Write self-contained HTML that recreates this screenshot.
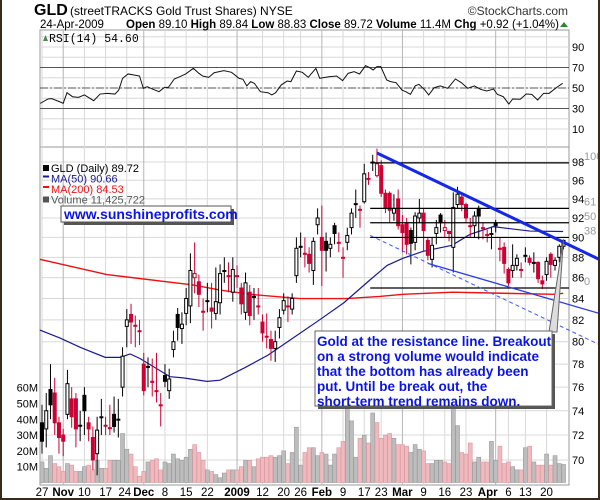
<!DOCTYPE html>
<html><head><meta charset="utf-8"><style>
html,body{margin:0;padding:0;background:#fff;}
svg{display:block;font-family:"Liberation Sans",sans-serif;}
</style></head><body>
<svg id="chart" width="600" height="500" viewBox="0 0 600 500">
<rect x="0" y="0" width="600" height="500" fill="#fff"/>
<g id="grid"></g>
<g id="volume"></g>
<g id="mas"></g>
<g id="candles"></g>
<g id="annot"></g>
<g id="rsi"></g>
<g id="axes"></g>
<g>
<text x="34" y="15" font-size="16" font-weight="bold">GLD</text>
<text x="70" y="15" font-size="12">(streetTRACKS Gold Trust Shares) NYSE</text>
<text x="568" y="15" font-size="12" text-anchor="end" fill="#333">©StockCharts.com</text>
<text x="40" y="28" font-size="11.5">24-Apr-2009</text>
<text x="126" y="28" font-size="11.5"><tspan font-weight="bold">Open</tspan> 89.10 <tspan font-weight="bold">High</tspan> 89.84 <tspan font-weight="bold">Low</tspan> 88.83 <tspan font-weight="bold">Close</tspan> 89.72 <tspan font-weight="bold">Volume</tspan> 11.4M <tspan font-weight="bold">Chg</tspan> +0.92 (+1.04%)</text>
<polygon points="560,27 564,22 568,27" fill="#2a8a2a"/>
</g>
<rect x="0" y="0" width="2" height="500" fill="#3d2b1a"/>
<rect x="598" y="0" width="2" height="500" fill="#3d2b1a"/>
<rect x="0" y="498" width="600" height="2" fill="#3d2b1a"/>
</svg>
<script>
// ---- data ----
const opens =  [73,72.5,75.8,75.5,73,72,73.7,75,75,72.8,75.3,73,71.8,70.5,73.5,72.8,72.6,73.7,73.3,76,81.4,82.5,81.5,81,78,77.8,76.5,75.7,74.5,77,75.7,79.3,82.5,81.2,82.6,83.3,86,85.6,82.8,83.8,83.1,82.6,83.6,86.7,86.2,84.6,86.2,85,82.7,84.6,84.2,83.3,81.8,80.5,80.2,79.4,81.3,82.9,83.3,83,86.2,89.1,88.4,88.3,86.7,91.3,90,89.6,88.9,91.2,89.5,88,89.5,91,93.5,92.9,93.7,96.2,98,96.5,97.6,94.6,94.6,92.5,94,91.3,91.4,90.7,89.5,92,92.5,89.7,87.8,90.4,92.3,90.7,90.6,89,93.4,94.2,93.4,91.2,91.2,93,91,90.3,90.4,91.5,88.9,89,86.8,86.7,87.2,86.8,88.2,87.9,87.5,87.5,85.7,86.3,88.3,87.2,88,89.1];
const highs =  [74.5,75.5,78,76.8,73.5,72.5,77.5,76,75.5,74,76,73.5,72.7,73.5,75,73.5,74.5,75.2,75,79.5,83,83.5,82.4,82,79,78.6,78.5,79,75.5,78,77.6,81,83.1,82.7,85,88.4,89.5,86.3,84,85.5,85.5,87,87.3,88,87.5,88,87.2,85.5,86.5,85.3,85,85,82.5,82.6,81,81,83,84.5,84.2,84.5,90,90.5,90,89,90,93,93.3,90.5,90,91.5,90.5,89,91,93,95,93.3,97.8,96.9,98.8,99.5,98.2,95,94.8,94.5,95,92.3,92,91,92.6,94,93,90,90,91.8,92.5,91.8,90.7,94.7,95.3,94.5,93.6,92,92.7,93.3,91.5,90.8,91,91.8,90,89.5,87,89.3,88.3,87.5,89,88.2,88.5,87.6,86.2,88,88.5,88,89.3,89.8];
const lows =   [70.5,71,73.3,72,70.5,70.3,73.3,72.6,71,71.5,72,71.5,69.2,68.8,72,72,72,72.2,71.8,75.2,79.5,79.8,79.5,79.7,75.3,76,75.2,74.7,72.7,76,75,78.6,80.1,79.8,81.5,81.7,84.5,83.2,81,82.7,81.2,82,82.5,85.5,84.6,83.7,85,82.5,82,81.5,82,82.5,80,79.4,78.3,78.2,80.3,82.5,81.8,82.5,85.5,88,87,86.5,85.3,90.3,85.2,86.6,88,89.3,88.5,86,88.7,90.3,92,91,93.5,95.5,97,96.3,94.2,92.5,91.5,91.7,90.8,88.5,88.3,87.3,88.7,91.5,88.6,87.7,87,89.3,90.5,90,89.6,86.5,93,92.7,91.5,90,90,89.8,89.8,89.5,88.8,90.5,87.6,86.4,85.2,86,86.7,86,87.5,87.2,86.5,85.5,84.9,85.7,86,86.7,87.5,88.8];
const closes = [71.5,74,74.5,73,71.8,71.5,76.3,73.5,72.5,72.8,74,72.5,70,72.4,73.5,72.8,72.6,72.7,73.3,78.7,82,81.8,81.5,81,75.7,77.8,76.5,75.7,74.5,76.5,76.7,80,81.3,81.6,84,86.7,86.4,84.4,82.8,83.8,82.8,83.7,86.4,86.7,86.2,86.8,86.2,83.5,85.5,82.4,84.2,83.3,80.8,80.5,79.4,80,82.2,83.8,83.3,84,88.9,89.1,88.4,87.4,89.6,92,88.7,88.7,89.3,90.4,89.5,88,90.2,92.5,93.4,92.9,96.7,96.2,98,97.8,94.6,93.1,92.8,93,91.2,90.5,89.3,89.4,92.2,92.5,90.7,88.2,89.2,91,91.5,91,90.4,93.1,94.5,93.4,92,91.2,92.2,92.2,91,90.3,90.4,91.2,88.9,87.4,85.5,87.2,87.9,86.8,88.1,87.5,87.5,85.9,85.4,87.6,87.3,87.7,89.1,89.7];
const volumesM = [13,9,17,12,10,7,12,11,7,7,10,11,8,14,9,9,14,14,14,31,21,18,10,4,7,13,14,15,8,13,12,18,15,14,16,21,24,19,14,8,7,5,3,6,8,8,8,10,14,14,10,15,16,16,17,16,17,20,12,19,35,11,19,22,22,17,19,18,11,18,22,26,49,39,16,28,30,25,44,38,28,30,31,28,24,24,23,19,24,21,20,12,12,14,14,13,12,52,36,19,18,25,13,16,13,13,26,14,23,12,13,10,8,8,22,23,13,11,11,18,11,17,12,11.4];
const ma50Day = [-0.5,4.2,9,14.9,18.4,20.8,23.1,30.2,33.3,38.9,42,47.9,53.3,58.7,65.1,71.2,77.4,81.4,85.1,89.9,96.7,100.9,106.4,115.1,122.9];
const ma50Val = [81.06,80.34,79.5,78.6,78.6,78.9,78.5,76.9,76.8,76.5,76.6,77.7,78.8,80.2,81.9,83.6,85.8,87.2,87.9,88.6,89.2,90.3,91.1,90.65,90.6];
const ma200Day = [-0.5,15.3,35.6,42,49,60.8,71.9,79.7,85.1,96.9,108.7,121,122.9];
const ma200Val = [87.8,86.3,85.3,84.8,84.4,84.0,84.0,84.2,84.4,84.6,84.5,84.4,84.5];
const rsiDay = [-0.4,1.4,2.3,4.1,5.0,5.9,7.2,8.6,10.0,12.2,13.7,15.4,17.2,18.1,19.0,20.3,21.7,23.0,23.9,24.8,26.2,27.6,28.9,29.8,31.2,32.5,33.9,35.7,37.0,37.9,39.3,40.6,42.9,44.7,46.5,47.4,48.3,49.2,50.1,51.5,53.3,54.2,55.1,56.4,57.8,58.7,60.0,61.4,62.8,64.6,65.5,66.4,67.7,69.5,70.9,72.2,73.6,74.9,76.3,77.2,78.1,79.0,79.9,81.3,82.2,83.5,84.9,85.8,86.9,88.0,88.9,90.3,91.2,92.5,93.9,95.7,97.5,98.9,100.4,102.0,103.4,104.9,106.5,107.4,108.8,110.1,111.0,112.8,114.2,115.5,116.9,118.3,119.6,121.4,122.8];
const rsiVal = [35.0,39.3,39.6,36.7,35.0,45.4,41.5,40.9,43.2,37.6,44.1,44.8,44.1,48.0,59.4,63.7,62.7,61.7,49.7,51.3,48.7,46.4,50.6,50.6,58.8,61.0,63.7,69.2,64.3,61.7,60.4,64.9,66.9,65.3,59.4,58.5,52.0,56.2,54.5,46.4,45.4,43.2,45.4,52.9,56.8,56.2,66.6,65.3,60.4,69.2,59.4,60.1,61.0,61.7,57.2,64.3,65.9,63.7,71.8,70.1,67.6,70.8,70.8,57.8,56.2,55.2,48.0,46.4,43.8,52.0,53.6,48.0,43.2,50.3,52.0,49.7,58.8,55.2,49.7,52.0,48.7,47.1,49.0,43.8,41.5,34.4,39.3,39.0,44.1,43.8,38.3,44.8,44.8,50.6,54.6];
const xLabels = ["27","Nov","10","17","24","Dec","8","15","22","2009","12","20","26","Feb","9","17","23","Mar","9","16","23","Apr","6","13","20"];
const xLabelDay = [0,5,10,15,20,24,29,34,39,46,52,57,61,66,71,76,80,85,90,95,100,107,110,114,119];
const monthLabels = ["Nov","Dec","2009","Feb","Mar","Apr"];
const priceTicks = [70,72,74,76,78,80,82,84,86,88,90,92,94,96,98];
const rsiTicks = [90,70,50,30,10];
const rsiGrid = [100,90,80,70,60,50,40,30,20,10];
const volTicks = [10,20,30,40,50,60];
const fibPrices = [97.9,93.0,91.5,90.0,85.0];
const fibLabels = ["100","61","50","38","0"];
const resistDay = [79,124.5];   const resistPrice = [99.0,89.2];
const supportDay = [91,124.5];  const supportPrice = [87.4,83.4];
const dashDay = [77.4,114.4];   const dashPrice = [90.2,82.9];

// ---- scales ----
const L=40,R=569,RT=30,RB=147,PT=147,PB=485;
const X=i=>42+4.24*i;
const Y=p=>162+(Math.log(98)-Math.log(p))*885.6;
const RY=v=>88-(v-50)*1.025;
const VY=v=>482.5-v*1.58;
const NS="http://www.w3.org/2000/svg";
function mk(tag,attrs,parent){const e=document.createElementNS(NS,tag);for(const k in attrs)e.setAttribute(k,attrs[k]);parent.appendChild(e);return e;}
const g=id=>document.getElementById(id);

// ---- grid ----
const grid=g('grid');
let e;
e=mk('rect',{x:L,y:RT,width:R-L,height:RB-RT,fill:'#fff',stroke:'#999'},grid);


e=mk('rect',{x:L,y:PT,width:R-L,height:PB-PT,fill:'#fff',stroke:'#999'},grid);


rsiGrid.forEach(v=>{
  e=mk('line',{x1:L,x2:R,y1:RY(v),y2:RY(v),stroke:'#d8d8d8'},grid);
  
  
});
priceTicks.forEach(p=>{
  e=mk('line',{x1:L,x2:R,y1:Y(p),y2:Y(p),stroke:'#d8d8d8'},grid);
  
  
});
xLabelDay.forEach((d,k)=>{
  const dark=monthLabels.includes(xLabels[k]);
  [[RT,RB],[PT,PB]].forEach(r=>{
    e=mk('line',{x1:X(d),x2:X(d),y1:r[0],y2:r[1],stroke:dark?'#b4b4b4':'#d8d8d8'},grid);
    
    
  });
});

// ---- volume ----
const vg=g('volume');
volumesM.forEach((v,i)=>{
  const up=i===0?true:closes[i]>=closes[i-1];
  e=mk('rect',{x:X(i)-2,y:VY(v),width:4,height:482.5-VY(v),fill:up?'#bdbdbd':'#efb9bd',stroke:up?'#9a9a9a':'#d99aa0','stroke-width':0.6},vg);
  
  
});

// ---- moving averages ----
const mg=g('mas');
e=mk('polyline',{points:ma200Day.map((d,k)=>X(d)+','+Y(ma200Val[k])).join(' '),fill:'none',stroke:'#ee1111','stroke-width':1.4},mg);


e=mk('polyline',{points:ma50Day.map((d,k)=>X(d)+','+Y(ma50Val[k])).join(' '),fill:'none',stroke:'#1a1a90','stroke-width':1.2},mg);



// ---- candles ----
const cg=g('candles');
closes.forEach((c,i)=>{
  const o=opens[i];
  const col=(i>0&&c<closes[i-1])?'#cc0033':'#000';
  const hollow=c>=o;
  const x=X(i);
  e=mk('line',{x1:x,x2:x,y1:Y(highs[i]),y2:Y(lows[i]),stroke:col,'stroke-width':1},cg);
  
  
  const top=Y(Math.max(o,c)),bot=Y(Math.min(o,c));
  e=mk('rect',{x:x-1.5,y:top,width:3,height:Math.max(1,bot-top),fill:hollow?'#fff':col,stroke:col,'stroke-width':1},cg);
  
  
});

// ---- annotations ----
const ag=g('annot');
fibPrices.forEach((p,k)=>{
  e=mk('line',{x1:X(77.4),x2:R,y1:Y(p),y2:Y(p),stroke:'#000','stroke-width':1.2},ag);
  
  
  e=mk('text',{x:584,y:Y(p)-3,'font-size':11,fill:'#999'},ag);
  e.textContent=fibLabels[k];
  
  
});
function extLine(days,prices,xEnd,attrs){
  const slope=(Math.log(prices[1])-Math.log(prices[0]))/(days[1]-days[0]);
  const dEnd=(xEnd-42)/4.24;
  const pEnd=Math.exp(Math.log(prices[0])+slope*(dEnd-days[0]));
  const a=Object.assign({x1:X(days[0]),y1:Y(prices[0]),x2:xEnd,y2:Y(pEnd)},attrs);
  return mk('line',a,ag);
}
e=extLine(supportDay,supportPrice,600,{stroke:'#2a3ee0','stroke-width':1.3});


e=extLine(dashDay,dashPrice,600,{stroke:'#3a55ff','stroke-width':1,'stroke-dasharray':'4,3'});


e=extLine(resistDay,resistPrice,600,{stroke:'#1428e6','stroke-width':3});


e=mk('polygon',{points:'549,332 557,332 '+X(123)+','+Y(highs[123]),fill:'#ddd',stroke:'#666','stroke-width':1},ag);


e=mk('rect',{x:318,y:334,width:237,height:75,fill:'#555'},ag);


e=mk('rect',{x:315,y:331,width:237,height:75,fill:'#fff',stroke:'#666','stroke-width':1},ag);


["Gold at the resistance line. Breakout","on a strong volume would indicate","that the bottom has already been","put. Until be break out, the","short-term trend remains down."].forEach((t,k)=>{
  e=mk('text',{x:317,y:346+k*15,'font-size':13.5,'font-weight':'bold',fill:'#0a14e6'},ag);
  e.textContent=t;
  
  
});
e=mk('rect',{x:64,y:209,width:170,height:16,fill:'#555'},ag);


e=mk('rect',{x:61,y:206,width:170,height:16,fill:'#fff',stroke:'#555'},ag);


e=mk('text',{x:64,y:219,'font-size':14,'font-weight':'bold',fill:'#0a14e6'},ag);
e.textContent='www.sunshineprofits.com';



// ---- RSI ----
const rg=g('rsi');
[70,30].forEach(v=>{
  e=mk('line',{x1:L,x2:R,y1:RY(v),y2:RY(v),stroke:'#555','stroke-width':1},rg);
  
  
});
e=mk('line',{x1:L,x2:R,y1:RY(50),y2:RY(50),stroke:'#555','stroke-dasharray':'8,2,2,2'},rg);


e=mk('polyline',{points:rsiDay.map((d,k)=>X(d)+','+RY(rsiVal[k])).join(' '),fill:'none',stroke:'#111','stroke-width':1},rg);


e=mk('polygon',{points:'43,41 45.5,35 48,41',fill:'#4a8a4a'},rg);


e=mk('text',{x:49,y:42,'font-size':11.5,'font-family':'Liberation Mono, monospace'},rg);
e.textContent='RSI(14) 54.60';



// ---- axes / legends ----
const xg=g('axes');
priceTicks.forEach(p=>{
  e=mk('text',{x:572,y:Y(p)+4,'font-size':11},xg);
  e.textContent=String(p);
  
  
});
rsiTicks.forEach(v=>{
  e=mk('text',{x:572,y:RY(v)+4,'font-size':11},xg);
  e.textContent=String(v);
  
  
});
volTicks.forEach(v=>{
  e=mk('text',{x:38,y:VY(v)+4,'font-size':11,'text-anchor':'end'},xg);
  e.textContent=v+'M';
  
  
});
xLabels.forEach((t,k)=>{
  const m=monthLabels.includes(t);
  let xx=X(xLabelDay[k]);
  if(t==='Apr') xx-=8;
  if(t==='24') xx-=2;
  e=mk('text',{x:xx,y:496,'font-size':11.5,'font-weight':m?'bold':'normal','text-anchor':'middle'},xg);
  e.textContent=t;
  
  
});
const leg=[['GLD (Daily) 89.72','#000'],['MA(50) 90.66','#1a1a90'],['MA(200) 84.53','#ee1111'],['Volume 11,425,722','#555']];
leg.forEach((l,k)=>{
  e=mk('rect',{x:43,y:165+k*10.5,width:6,height:k===0||k===3?6:2,fill:l[1]},xg);
  
  
  e=mk('text',{x:51,y:172+k*10.5,'font-size':11,fill:l[1]},xg);
  e.textContent=l[0];
  
  
});
</script>
</body></html>
